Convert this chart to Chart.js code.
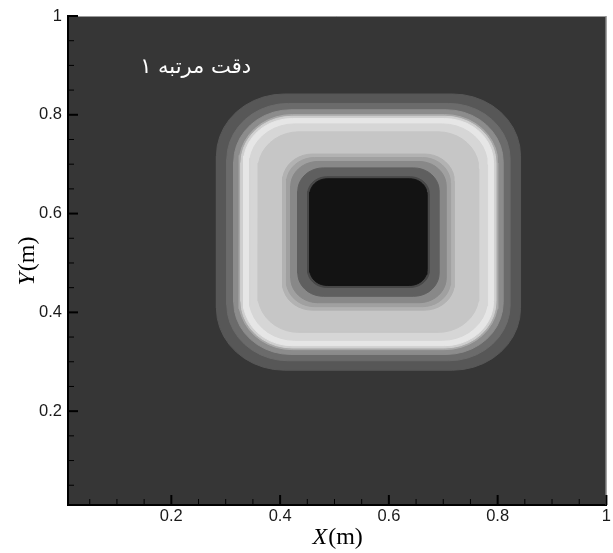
<!DOCTYPE html>
<html>
<head>
<meta charset="utf-8">
<script src="https://cdn.jsdelivr.net/npm/chart.js@4.4.0/dist/chart.umd.min.js"></script>
<style>
    html, body { margin: 0; padding: 0; background: #fff; }
    #wrap { position: relative; width: 613px; height: 553px; }
</style>
</head>
<body>
<div id="wrap"><canvas id="contour"></canvas></div>
<script>
// Square ring contour - first order scheme

// --- Data ---

const majorTicks = [0.2, 0.4, 0.6, 0.8, 1];
const tickLabels = ['0.2', '0.4', '0.6', '0.8', '1'];
const minorTicks = [0.05, 0.1, 0.15, 0.25, 0.3, 0.35, 0.45, 0.5, 0.55, 0.65, 0.7, 0.75, 0.85, 0.9, 0.95];

// centre of the ring (m)
const ringCentre = [0.5625, 0.5625];
// contour bands from outside in: half width of each rounded square and its corner radius (m)
const bandHalfWidth = [0.2796, 0.2605, 0.2477, 0.238, 0.2345, 0.230, 0.219, 0.203, 0.158, 0.151, 0.143, 0.130, 0.112, 0.108];
const bandCornerRadius = [0.125, 0.113, 0.105, 0.098, 0.094, 0.090, 0.083, 0.075, 0.055, 0.052, 0.050, 0.047, 0.035, 0.032];

const noteText = 'دقت مرتبه ۱';

// --- Styles ---

const bandGrey = ['#575757', '#6b6b6b', '#8c8c8c', '#a9a9a9', '#cfcfcf', '#e6e6e6', '#d6d6d6',
    '#c6c6c6', '#b2b2b2', '#a0a0a0', '#888888', '#5f5f5f', '#484848', '#131313'];
const fieldGrey = '#363636';
const tickFont = { family: 'Liberation Sans', size: 16.5 };

// --- Helpers ---

function roundedSquare(h, r) {
    const [cx, cy] = ringCentre;
    const corners = [[1, 1, 0], [-1, 1, 90], [-1, -1, 180], [1, -1, 270]];
    const pts = [];
    for (const [sx, sy, start] of corners) {
        const ox = cx + sx * (h - r);
        const oy = cy + sy * (h - r);
        for (let k = 0; k <= 10; k++) {
            const a = (start + k * 9) * Math.PI / 180;
            pts.push({ x: ox + r * Math.cos(a), y: oy + r * Math.sin(a) });
        }
    }
    pts.push(pts[0]);
    return pts;
}

function tickLabel(v) {
    const k = majorTicks.indexOf(v);
    return k >= 0 ? tickLabels[k] : '';
}

const allTicks = [...majorTicks, ...minorTicks].sort((a, b) => a - b);

// --- Plugins ---

const fieldBackground = {
    id: 'fieldBackground',
    beforeDraw(chart) {
        const { ctx, chartArea: a } = chart;
        ctx.save();
        ctx.fillStyle = fieldGrey;
        ctx.fillRect(a.left, a.top, a.right - a.left, a.bottom - a.top);
        ctx.restore();
    },
};

const frameAndTicks = {
    id: 'frameAndTicks',
    afterDatasetsDraw(chart) {
        const { ctx, chartArea: a, scales } = chart;
        ctx.save();
        // thin frame on top and right
        ctx.strokeStyle = '#9a9a9a';
        ctx.lineWidth = 1;
        ctx.beginPath();
        ctx.moveTo(a.left, a.top + 0.5);
        ctx.lineTo(a.right - 0.5, a.top + 0.5);
        ctx.lineTo(a.right - 0.5, a.bottom);
        ctx.stroke();

        // inward tick marks
        ctx.strokeStyle = '#000';
        for (const t of scales.x.ticks) {
            const major = tickLabel(t.value) !== '';
            const px = scales.x.getPixelForValue(t.value);
            ctx.lineWidth = major ? 2 : 1;
            ctx.beginPath();
            ctx.moveTo(px, a.bottom);
            ctx.lineTo(px, a.bottom - (major ? 10 : 6));
            ctx.stroke();
        }
        for (const t of scales.y.ticks) {
            const major = tickLabel(t.value) !== '';
            const py = scales.y.getPixelForValue(t.value);
            ctx.lineWidth = major ? 2 : 1;
            ctx.beginPath();
            ctx.moveTo(a.left, py);
            ctx.lineTo(a.left + (major ? 10 : 6), py);
            ctx.stroke();
        }

        // label inside the plot
        ctx.fillStyle = '#ffffff';
        ctx.font = '21px "DejaVu Sans"';
        ctx.textAlign = 'center';
        ctx.textBaseline = 'alphabetic';
        ctx.direction = 'rtl';
        ctx.fillText(noteText, scales.x.getPixelForValue(0.2446), scales.y.getPixelForValue(0.885));
        ctx.restore();
    },
};

function drawAxisTitle(ctx, letter, x, y, angle) {
    ctx.save();
    ctx.translate(x, y);
    ctx.rotate(angle);
    ctx.fillStyle = '#000';
    ctx.textBaseline = 'alphabetic';
    ctx.textAlign = 'left';
    ctx.font = 'italic 24px "Liberation Serif"';
    const w1 = ctx.measureText(letter).width;
    ctx.font = '24px "Liberation Serif"';
    const w2 = ctx.measureText('(m)').width;
    const x0 = -(w1 + w2) / 2;
    ctx.font = 'italic 24px "Liberation Serif"';
    ctx.fillText(letter, x0, 0);
    ctx.font = '24px "Liberation Serif"';
    ctx.fillText('(m)', x0 + w1 + 1, 0);
    ctx.restore();
}

const axisTitles = {
    id: 'axisTitles',
    afterDraw(chart) {
        const { ctx, chartArea: a } = chart;
        drawAxisTitle(ctx, 'X', (a.left + a.right) / 2, 544, 0);
        drawAxisTitle(ctx, 'Y', 33.5, (a.top + a.bottom) / 2 + 1, -Math.PI / 2);
    },
};

// --- Chart ---

const datasets = bandHalfWidth.map((h, i) => ({
    data: roundedSquare(h, bandCornerRadius[i]),
    backgroundColor: bandGrey[i],
    borderColor: bandGrey[i],
    borderWidth: 1,
    pointRadius: 0,
    fill: 'shape',
    order: -i,
}));

function axis(extra) {
    return {
        type: 'linear',
        min: 0.01,
        max: 1,
        afterBuildTicks: (scale) => { scale.ticks = allTicks.map(v => ({ value: v })); },
        grid: { display: false, drawTicks: false },
        border: { display: true, color: '#000', width: 2 },
        ticks: {
            autoSkip: false,
            maxRotation: 0,
            color: '#1a1a1a',
            font: tickFont,
            callback: tickLabel,
            ...extra.ticks,
        },
        afterFit: extra.afterFit,
    };
}

new Chart(document.getElementById('contour'), {
    type: 'line',
    data: { datasets },
    options: {
        responsive: true,
        maintainAspectRatio: false,
        animation: false,
        events: [],
        layout: { padding: { top: 16, right: 5, left: 0, bottom: 0 } },
        plugins: { legend: { display: false }, tooltip: { enabled: false } },
        scales: {
            x: axis({ ticks: { padding: 2 }, afterFit: (s) => { s.height = 48; } }),
            y: axis({ ticks: { padding: 6 }, afterFit: (s) => { s.width = 68; } }),
        },
    },
    plugins: [fieldBackground, frameAndTicks, axisTitles],
});
</script>
</body>
</html>
